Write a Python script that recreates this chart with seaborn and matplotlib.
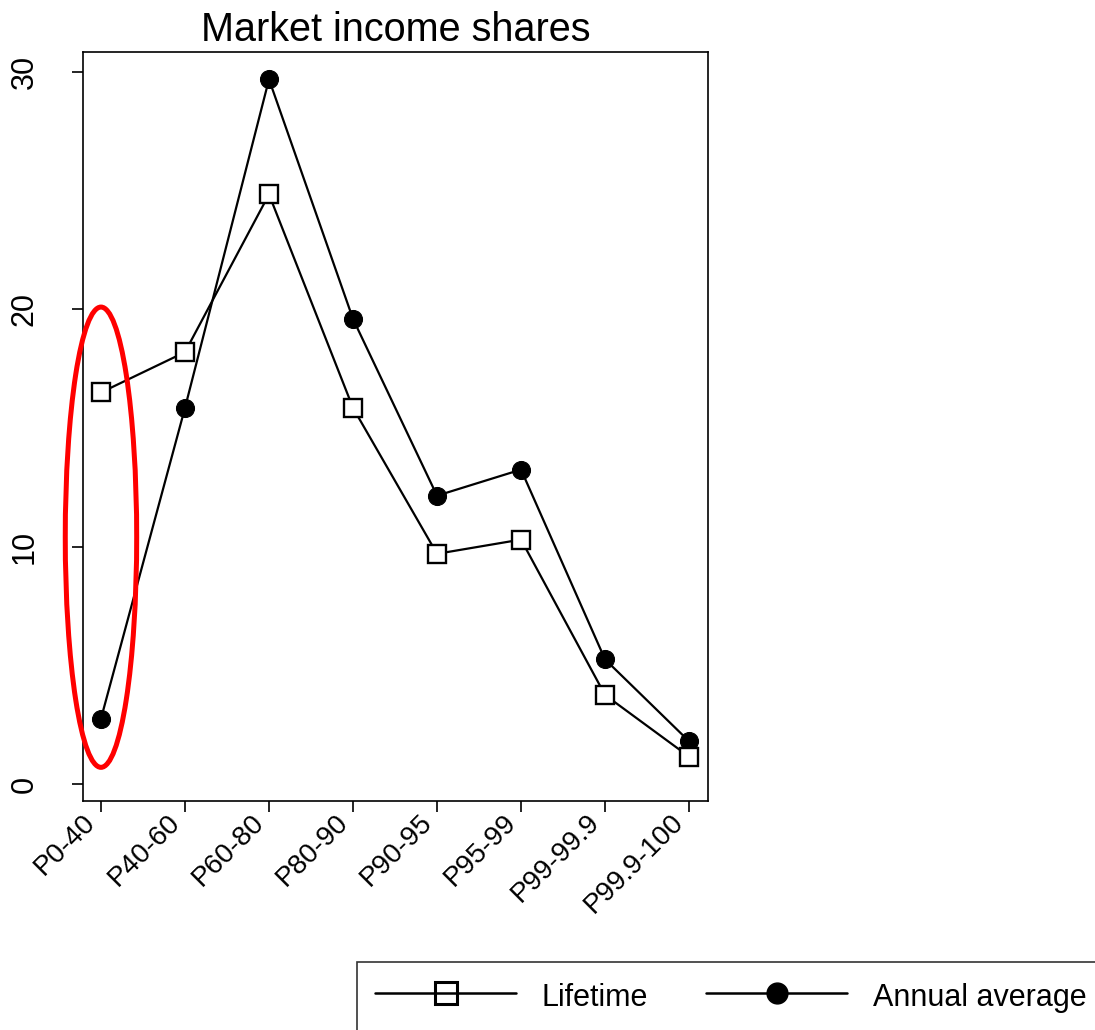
import matplotlib
matplotlib.use("Agg")
import matplotlib.pyplot as plt
from matplotlib.patches import Ellipse
from matplotlib.lines import Line2D
import seaborn as sns
import pandas as pd

# Income groups and market income shares (%)
groups = ["P0-40", "P40-60", "P60-80", "P80-90", "P90-95", "P95-99", "P99-99.9", "P99.9-100"]
lifetime = [16.5, 18.2, 24.85, 15.85, 9.7, 10.3, 3.75, 1.15]
annual_average = [2.75, 15.85, 29.7, 19.6, 12.15, 13.25, 5.25, 1.8]
y_ticks = [0, 10, 20, 30]

sns.set_theme(style="white")
plt.rcParams["font.family"] = ["Liberation Sans", "DejaVu Sans"]
plt.rcParams.update({"text.color": "black", "axes.labelcolor": "black",
                     "xtick.color": "black", "ytick.color": "black"})

df = pd.DataFrame({"pos": range(len(groups)), "group": groups,
                   "Lifetime": lifetime, "Annual average": annual_average})

fig = plt.figure(figsize=(10.95, 10.3), dpi=100)
ax = fig.add_axes([0.0758, 0.2223, 0.5708, 0.7272])

sns.lineplot(data=df, x="pos", y="Annual average", ax=ax, color="black", lw=1.6,
             marker="o", markersize=13, markerfacecolor="black",
             markeredgecolor="black", zorder=3)
sns.lineplot(data=df, x="pos", y="Lifetime", ax=ax, color="black", lw=1.6,
             marker="s", markersize=12.5, markerfacecolor="white",
             markeredgecolor="black", markeredgewidth=1.7, zorder=4)

# highlight the bottom group
ax.add_patch(Ellipse((0, 10.4), width=0.85, height=19.4, fill=False,
                     edgecolor="#ff0000", lw=3.6, zorder=5, clip_on=False))

ax.set_xlim(-0.214, 7.226)
ax.set_ylim(-0.72, 30.85)
ax.set_xticks(range(len(groups)))
ax.set_xticklabels(groups, rotation=45, ha="right", va="top",
                   rotation_mode="default", fontsize=20)
ax.set_yticks(y_ticks)
ax.set_yticklabels([str(v) for v in y_ticks], rotation=90, va="center", fontsize=22)
ax.set_xlabel("")
ax.set_ylabel("")
ax.tick_params(axis="both", direction="out", length=8, width=1.2, color="black",
               bottom=True, left=True)
ax.tick_params(axis="x", pad=-2)
ax.tick_params(axis="y", pad=23)
for s in ax.spines.values():
    s.set_color("black")
    s.set_linewidth(1.2)
ax.set_title("Market income shares", fontsize=28.5, pad=8)

handles = [
    Line2D([], [], color="black", lw=1.8, marker="s", markersize=16,
           markerfacecolor="none", markeredgecolor="black", markeredgewidth=2.2),
    Line2D([], [], color="black", lw=1.8, marker="o", markersize=15,
           markerfacecolor="black", markeredgecolor="black"),
]
fig.legend(handles, ["Lifetime", "Annual average"], loc="upper left",
           bbox_to_anchor=(0.326, 0.066), ncol=2, fontsize=22, frameon=True,
           fancybox=False, edgecolor="black", handlelength=4.6, handletextpad=0.85,
           handleheight=1.2, columnspacing=1.9, borderpad=0.6, borderaxespad=0)
fig.legends[0].get_frame().set_linewidth(1.2)

fig.savefig("out.png", dpi=100, facecolor="white")
